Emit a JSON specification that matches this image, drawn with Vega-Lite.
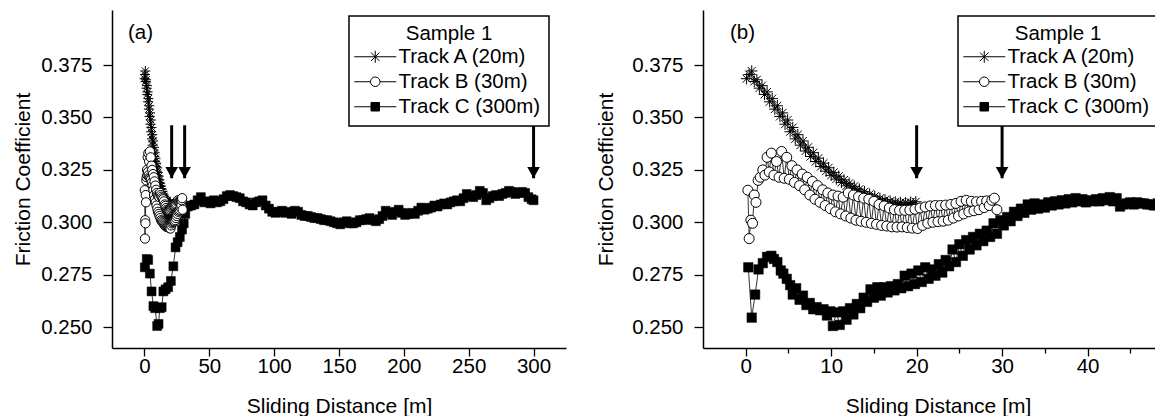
{
  "$schema": "https://vega.github.io/schema/vega-lite/v6.json",
  "background": "white",
  "padding": {"left": 12, "top": 10, "right": 0, "bottom": 0},
  "spacing": 29,
  "datasets": {
    "tracks": [{"track": "Track A (20m)"}, {"track": "Track B (30m)"}, {"track": "Track C (300m)"}],
    "ab": [
      {"t":"A","x":0.1,"y":0.3685},{"t":"A","x":0.4,"y":0.3705},{"t":"A","x":0.7,"y":0.3722},{"t":"A","x":1.0,"y":0.3672},{"t":"A","x":1.3,"y":0.3680},{"t":"A","x":1.6,"y":0.3640},{"t":"A","x":1.9,"y":0.3652},{"t":"A","x":2.2,"y":0.3610},{"t":"A","x":2.5,"y":0.3622},{"t":"A","x":2.8,"y":0.3575},{"t":"A","x":3.1,"y":0.3590},{"t":"A","x":3.4,"y":0.3540},{"t":"A","x":3.7,"y":0.3556},{"t":"A","x":4.0,"y":0.3505},{"t":"A","x":4.3,"y":0.3522},{"t":"A","x":4.6,"y":0.3468},{"t":"A","x":4.9,"y":0.3488},{"t":"A","x":5.2,"y":0.3432},{"t":"A","x":5.5,"y":0.3452},{"t":"A","x":5.8,"y":0.3398},{"t":"A","x":6.1,"y":0.3418},{"t":"A","x":6.4,"y":0.3368},{"t":"A","x":6.7,"y":0.3388},{"t":"A","x":7.0,"y":0.3340},{"t":"A","x":7.3,"y":0.3358},{"t":"A","x":7.6,"y":0.3314},{"t":"A","x":7.9,"y":0.3332},{"t":"A","x":8.2,"y":0.3290},{"t":"A","x":8.5,"y":0.3306},{"t":"A","x":8.8,"y":0.3266},{"t":"A","x":9.1,"y":0.3282},{"t":"A","x":9.4,"y":0.3244},{"t":"A","x":9.7,"y":0.3260},{"t":"A","x":10.0,"y":0.3224},{"t":"A","x":10.3,"y":0.3238},{"t":"A","x":10.6,"y":0.3206},{"t":"A","x":10.9,"y":0.3220},{"t":"A","x":11.2,"y":0.3190},{"t":"A","x":11.5,"y":0.3202},{"t":"A","x":11.8,"y":0.3174},{"t":"A","x":12.1,"y":0.3186},{"t":"A","x":12.4,"y":0.3160},{"t":"A","x":12.7,"y":0.3172},{"t":"A","x":13.0,"y":0.3146},{"t":"A","x":13.3,"y":0.3158},{"t":"A","x":13.6,"y":0.3134},{"t":"A","x":13.9,"y":0.3146},{"t":"A","x":14.2,"y":0.3122},{"t":"A","x":14.5,"y":0.3134},{"t":"A","x":14.8,"y":0.3112},{"t":"A","x":15.1,"y":0.3124},{"t":"A","x":15.4,"y":0.3104},{"t":"A","x":15.7,"y":0.3114},{"t":"A","x":16.0,"y":0.3097},{"t":"A","x":16.3,"y":0.3107},{"t":"A","x":16.6,"y":0.3092},{"t":"A","x":16.9,"y":0.3101},{"t":"A","x":17.2,"y":0.3088},{"t":"A","x":17.5,"y":0.3097},{"t":"A","x":17.8,"y":0.3085},{"t":"A","x":18.1,"y":0.3094},{"t":"A","x":18.4,"y":0.3084},{"t":"A","x":18.7,"y":0.3093},{"t":"A","x":19.0,"y":0.3085},{"t":"A","x":19.3,"y":0.3095},{"t":"A","x":19.6,"y":0.3088},{"t":"A","x":19.9,"y":0.3098},
      {"t":"B","x":0.25,"y":0.3153},{"t":"B","x":0.4,"y":0.2922},{"t":"B","x":0.6,"y":0.3010},{"t":"B","x":0.8,"y":0.2995},{"t":"B","x":1.0,"y":0.3130},{"t":"B","x":1.2,"y":0.3095},{"t":"B","x":1.45,"y":0.3200},{"t":"B","x":1.7,"y":0.3215},{"t":"B","x":2.0,"y":0.3250},{"t":"B","x":2.25,"y":0.3225},{"t":"B","x":2.5,"y":0.3310},{"t":"B","x":2.75,"y":0.3240},{"t":"B","x":3.0,"y":0.3330},{"t":"B","x":3.3,"y":0.3225},{"t":"B","x":3.6,"y":0.3290},{"t":"B","x":3.9,"y":0.3215},{"t":"B","x":4.2,"y":0.3338},{"t":"B","x":4.5,"y":0.3210},{"t":"B","x":4.8,"y":0.3310},{"t":"B","x":5.1,"y":0.3205},{"t":"B","x":5.4,"y":0.3270},{"t":"B","x":5.7,"y":0.3190},{"t":"B","x":6.0,"y":0.3250},{"t":"B","x":6.3,"y":0.3175},{"t":"B","x":6.6,"y":0.3230},{"t":"B","x":6.9,"y":0.3155},{"t":"B","x":7.2,"y":0.3215},{"t":"B","x":7.5,"y":0.3130},{"t":"B","x":7.8,"y":0.3195},{"t":"B","x":8.1,"y":0.3110},{"t":"B","x":8.4,"y":0.3175},{"t":"B","x":8.7,"y":0.3095},{"t":"B","x":9.0,"y":0.3155},{"t":"B","x":9.3,"y":0.3080},{"t":"B","x":9.6,"y":0.3140},{"t":"B","x":9.9,"y":0.3065},{"t":"B","x":10.2,"y":0.3130},{"t":"B","x":10.5,"y":0.3050},{"t":"B","x":10.8,"y":0.3125},{"t":"B","x":11.1,"y":0.3040},{"t":"B","x":11.4,"y":0.3120},{"t":"B","x":11.7,"y":0.3030},{"t":"B","x":12.0,"y":0.3140},{"t":"B","x":12.3,"y":0.3020},{"t":"B","x":12.6,"y":0.3130},{"t":"B","x":12.9,"y":0.3010},{"t":"B","x":13.2,"y":0.3122},{"t":"B","x":13.5,"y":0.3005},{"t":"B","x":13.8,"y":0.3115},{"t":"B","x":14.1,"y":0.3000},{"t":"B","x":14.4,"y":0.3110},{"t":"B","x":14.7,"y":0.2995},{"t":"B","x":15.0,"y":0.3100},{"t":"B","x":15.3,"y":0.2990},{"t":"B","x":15.6,"y":0.3085},{"t":"B","x":15.9,"y":0.2985},{"t":"B","x":16.2,"y":0.3078},{"t":"B","x":16.5,"y":0.2982},{"t":"B","x":16.8,"y":0.3068},{"t":"B","x":17.1,"y":0.2978},{"t":"B","x":17.4,"y":0.3060},{"t":"B","x":17.7,"y":0.2977},{"t":"B","x":18.0,"y":0.3057},{"t":"B","x":18.3,"y":0.2978},{"t":"B","x":18.6,"y":0.3057},{"t":"B","x":18.9,"y":0.2975},{"t":"B","x":19.2,"y":0.3058},{"t":"B","x":19.5,"y":0.2972},{"t":"B","x":19.8,"y":0.3062},{"t":"B","x":20.1,"y":0.2970},{"t":"B","x":20.4,"y":0.3068},{"t":"B","x":20.7,"y":0.2985},{"t":"B","x":21.0,"y":0.3073},{"t":"B","x":21.3,"y":0.2995},{"t":"B","x":21.6,"y":0.3078},{"t":"B","x":21.9,"y":0.3000},{"t":"B","x":22.2,"y":0.3080},{"t":"B","x":22.5,"y":0.3003},{"t":"B","x":22.8,"y":0.3080},{"t":"B","x":23.1,"y":0.3005},{"t":"B","x":23.4,"y":0.3082},{"t":"B","x":23.7,"y":0.3010},{"t":"B","x":24.0,"y":0.3085},{"t":"B","x":24.3,"y":0.3020},{"t":"B","x":24.6,"y":0.3090},{"t":"B","x":24.9,"y":0.3030},{"t":"B","x":25.2,"y":0.3100},{"t":"B","x":25.5,"y":0.3040},{"t":"B","x":25.8,"y":0.3105},{"t":"B","x":26.1,"y":0.3050},{"t":"B","x":26.4,"y":0.3100},{"t":"B","x":26.7,"y":0.3055},{"t":"B","x":27.0,"y":0.3098},{"t":"B","x":27.3,"y":0.3060},{"t":"B","x":27.6,"y":0.3100},{"t":"B","x":27.9,"y":0.3070},{"t":"B","x":28.2,"y":0.3102},{"t":"B","x":28.5,"y":0.3080},{"t":"B","x":28.8,"y":0.3105},{"t":"B","x":29.1,"y":0.3115},{"t":"B","x":29.4,"y":0.3060}
    ],
    "cR": [
      {"x":0.3,"y":0.2785},{"x":0.7,"y":0.2545},{"x":1.1,"y":0.2655},{"x":1.5,"y":0.2775},{"x":2.0,"y":0.2805},{"x":2.5,"y":0.2835},{"x":3.0,"y":0.2840},{"x":3.3,"y":0.2825},{"x":3.7,"y":0.2810},{"x":4.1,"y":0.2770},{"x":4.4,"y":0.2755},{"x":4.8,"y":0.2730},{"x":5.2,"y":0.2700},{"x":5.5,"y":0.2655},{"x":5.9,"y":0.2685},{"x":6.3,"y":0.2630},{"x":6.7,"y":0.2650},{"x":7.1,"y":0.2605},{"x":7.5,"y":0.2615},{"x":7.9,"y":0.2585},{"x":8.3,"y":0.2595},{"x":8.7,"y":0.2580},{"x":9.1,"y":0.2585},{"x":9.5,"y":0.2555},{"x":9.9,"y":0.2575},{"x":10.2,"y":0.2505},{"x":10.6,"y":0.2570},{"x":11.0,"y":0.2510},{"x":11.4,"y":0.2575},{"x":11.8,"y":0.2535},{"x":12.2,"y":0.2590},{"x":12.6,"y":0.2560},{"x":13.0,"y":0.2610},{"x":13.4,"y":0.2590},{"x":13.8,"y":0.2640},{"x":14.2,"y":0.2620},{"x":14.6,"y":0.2680},{"x":15.0,"y":0.2640},{"x":15.4,"y":0.2690},{"x":15.8,"y":0.2650},{"x":16.2,"y":0.2690},{"x":16.6,"y":0.2665},{"x":17.0,"y":0.2695},{"x":17.4,"y":0.2675},{"x":17.8,"y":0.2705},{"x":18.2,"y":0.2685},{"x":18.6,"y":0.2745},{"x":19.0,"y":0.2695},{"x":19.4,"y":0.2755},{"x":19.8,"y":0.2705},{"x":20.2,"y":0.2770},{"x":20.6,"y":0.2715},{"x":21.0,"y":0.2785},{"x":21.4,"y":0.2730},{"x":21.8,"y":0.2775},{"x":22.2,"y":0.2745},{"x":22.6,"y":0.2800},{"x":23.0,"y":0.2760},{"x":23.4,"y":0.2820},{"x":23.8,"y":0.2790},{"x":24.2,"y":0.2870},{"x":24.6,"y":0.2810},{"x":25.0,"y":0.2895},{"x":25.4,"y":0.2840},{"x":25.8,"y":0.2915},{"x":26.2,"y":0.2870},{"x":26.6,"y":0.2930},{"x":27.0,"y":0.2890},{"x":27.4,"y":0.2945},{"x":27.8,"y":0.2910},{"x":28.2,"y":0.2960},{"x":28.6,"y":0.2930},{"x":29.0,"y":0.2995},{"x":29.4,"y":0.2945},{"x":29.8,"y":0.3010},{"x":30.2,"y":0.2985},{"x":30.6,"y":0.3025},{"x":31.0,"y":0.3005},{"x":31.4,"y":0.3050},{"x":31.8,"y":0.3030},{"x":32.2,"y":0.3065},{"x":32.6,"y":0.3045},{"x":33.0,"y":0.3085},{"x":33.4,"y":0.3060},{"x":33.8,"y":0.3090},{"x":34.2,"y":0.3065},{"x":34.6,"y":0.3085},{"x":35.0,"y":0.3070},{"x":35.4,"y":0.3095},{"x":35.8,"y":0.3080},{"x":36.2,"y":0.3100},{"x":36.6,"y":0.3085},{"x":37.0,"y":0.3105},{"x":37.4,"y":0.3090},{"x":37.8,"y":0.3110},{"x":38.2,"y":0.3095},{"x":38.6,"y":0.3115},{"x":39.0,"y":0.3100},{"x":39.4,"y":0.3110},{"x":39.8,"y":0.3095},{"x":40.2,"y":0.3105},{"x":40.6,"y":0.3100},{"x":41.0,"y":0.3110},{"x":41.4,"y":0.3100},{"x":41.8,"y":0.3115},{"x":42.2,"y":0.3105},{"x":42.6,"y":0.3120},{"x":43.0,"y":0.3100},{"x":43.4,"y":0.3115},{"x":43.8,"y":0.3075},{"x":44.2,"y":0.3085},{"x":44.6,"y":0.3090},{"x":45.0,"y":0.3095},{"x":45.4,"y":0.3085},{"x":45.8,"y":0.3095},{"x":46.2,"y":0.3090},{"x":46.6,"y":0.3090},{"x":47.0,"y":0.3085},{"x":47.4,"y":0.3085},{"x":47.8,"y":0.3080},{"x":48.2,"y":0.3090},{"x":48.6,"y":0.3085},{"x":49.0,"y":0.3085},{"x":49.4,"y":0.3090}
    ],
    "cL": [
      {"x":0.3,"y":0.2785},{"x":1.8,"y":0.2825},{"x":2.9,"y":0.2820},{"x":4.2,"y":0.2755},{"x":5.5,"y":0.2670},{"x":6.9,"y":0.2600},{"x":8.2,"y":0.2590},{"x":9.8,"y":0.2505},{"x":10.9,"y":0.2515},{"x":11.9,"y":0.2590},{"x":13.3,"y":0.2595},{"x":14.6,"y":0.2670},{"x":16.3,"y":0.2680},{"x":18.3,"y":0.2690},{"x":20.4,"y":0.2720},{"x":22.3,"y":0.2790},{"x":24.0,"y":0.2880},{"x":25.6,"y":0.2905},{"x":27.3,"y":0.2930},{"x":29.0,"y":0.2965},{"x":30.3,"y":0.2995},{"x":31.5,"y":0.3040},
      {"x":33.5,"y":0.3075},{"x":36,"y":0.3080},{"x":38.5,"y":0.3085},{"x":41,"y":0.3105},{"x":43.5,"y":0.3120},{"x":46,"y":0.3095},{"x":48.5,"y":0.3100},{"x":51,"y":0.3090},{"x":53.5,"y":0.3105},{"x":56,"y":0.3095},{"x":58.5,"y":0.3100},{"x":61,"y":0.3110},{"x":63.5,"y":0.3125},{"x":66,"y":0.3130},{"x":68.5,"y":0.3125},{"x":71,"y":0.3120},{"x":73.5,"y":0.3115},{"x":76,"y":0.3100},{"x":78.5,"y":0.3095},{"x":81,"y":0.3085},{"x":83.5,"y":0.3080},{"x":86,"y":0.3095},{"x":88.5,"y":0.3100},{"x":91,"y":0.3105},{"x":93.5,"y":0.3080},{"x":96,"y":0.3065},{"x":98.5,"y":0.3050},{"x":101,"y":0.3045},{"x":103.5,"y":0.3050},{"x":106,"y":0.3055},{"x":108.5,"y":0.3045},{"x":111,"y":0.3050},{"x":113.5,"y":0.3040},{"x":116,"y":0.3055},{"x":118.5,"y":0.3050},{"x":121,"y":0.3035},{"x":123.5,"y":0.3030},{"x":126,"y":0.3030},{"x":128.5,"y":0.3025},{"x":131,"y":0.3020},{"x":133.5,"y":0.3020},{"x":136,"y":0.3015},{"x":138.5,"y":0.3010},{"x":141,"y":0.3010},{"x":143.5,"y":0.3005},{"x":146,"y":0.3000},{"x":148.5,"y":0.2995},{"x":151,"y":0.2990},{"x":153.5,"y":0.3000},{"x":156,"y":0.3005},{"x":158.5,"y":0.2995},{"x":161,"y":0.2995},{"x":163.5,"y":0.3000},{"x":166,"y":0.3010},{"x":168.5,"y":0.3010},{"x":171,"y":0.3015},{"x":173.5,"y":0.3020},{"x":176,"y":0.3010},{"x":178.5,"y":0.3005},{"x":181,"y":0.3015},{"x":183.5,"y":0.3030},{"x":186,"y":0.3055},{"x":188.5,"y":0.3045},{"x":191,"y":0.3035},{"x":193.5,"y":0.3050},{"x":196,"y":0.3060},{"x":198.5,"y":0.3045},{"x":201,"y":0.3035},{"x":203.5,"y":0.3040},{"x":206,"y":0.3045},{"x":208.5,"y":0.3040},{"x":211,"y":0.3055},{"x":213.5,"y":0.3070},{"x":216,"y":0.3060},{"x":218.5,"y":0.3065},{"x":221,"y":0.3070},{"x":223.5,"y":0.3080},{"x":226,"y":0.3075},{"x":228.5,"y":0.3085},{"x":231,"y":0.3090},{"x":233.5,"y":0.3085},{"x":236,"y":0.3095},{"x":238.5,"y":0.3100},{"x":241,"y":0.3105},{"x":243.5,"y":0.3100},{"x":246,"y":0.3115},{"x":248.5,"y":0.3135},{"x":251,"y":0.3125},{"x":253.5,"y":0.3120},{"x":256,"y":0.3130},{"x":258.5,"y":0.3150},{"x":261,"y":0.3140},{"x":263.5,"y":0.3105},{"x":266,"y":0.3115},{"x":268.5,"y":0.3125},{"x":271,"y":0.3130},{"x":273.5,"y":0.3125},{"x":276,"y":0.3135},{"x":278.5,"y":0.3140},{"x":281,"y":0.3150},{"x":283.5,"y":0.3145},{"x":286,"y":0.3135},{"x":288.5,"y":0.3140},{"x":291,"y":0.3145},{"x":293.5,"y":0.3140},{"x":296,"y":0.3120},{"x":298.5,"y":0.3110},{"x":300,"y":0.3105}
    ]
  },
  "hconcat": [
    {
      "width": 454,
      "height": 338,
      "layer": [
        {
          "data": {"name": "ab"},
          "mark": {"type": "line", "stroke": "black", "strokeWidth": 0.8},
          "encoding": {
            "x": {"field": "x", "type": "quantitative", "scale": {"domain": [-25, 325], "nice": false, "zero": false},
                  "axis": {"title": "Sliding Distance [m]", "values": [0, 25, 50, 75, 100, 125, 150, 175, 200, 225, 250, 275, 300],
                           "labelExpr": "datum.value % 50 == 0 ? datum.label : ''",
                           "tickSize": {"condition": {"test": "datum.value % 50 != 0", "value": 5}, "value": 8},
                           "labelPadding": 0, "titlePadding": 19, "labelOverlap": false, "labelFlush": false}},
            "y": {"field": "y", "type": "quantitative", "scale": {"domain": [0.24, 0.4013], "nice": false, "zero": false},
                  "axis": {"title": "Friction Coefficient", "values": [0.25, 0.2625, 0.275, 0.2875, 0.3, 0.3125, 0.325, 0.3375, 0.35, 0.3625, 0.375, 0.3875],
                           "labelExpr": "round(datum.value*1000) % 25 == 0 ? format(datum.value, '.3f') : ''",
                           "tickSize": {"condition": {"test": "round(datum.value*1000) % 25 != 0", "value": 5}, "value": 9},
                           "labelPadding": 11, "titlePadding": 7.2, "labelOverlap": false, "labelFlush": false}},
            "detail": {"field": "t"}
          }
        },
        {
          "data": {"name": "cL"},
          "mark": {"type": "line", "stroke": "black", "strokeWidth": 0.8},
          "encoding": {"x": {"field": "x", "type": "quantitative"}, "y": {"field": "y", "type": "quantitative"}}
        },
        {
          "data": {"name": "ab"},
          "transform": [{"filter": "datum.t == 'A'"}],
          "mark": {"type": "point", "shape": "M-1,0L1,0M0,-1L0,1M-0.7,-0.7L0.7,0.7M-0.7,0.7L0.7,-0.7", "size": 100, "filled": false, "stroke": "black", "strokeWidth": 1, "opacity": 1},
          "encoding": {"x": {"field": "x", "type": "quantitative"}, "y": {"field": "y", "type": "quantitative"}}
        },
        {
          "data": {"name": "cL"},
          "mark": {"type": "point", "shape": "square", "size": 80, "filled": true, "fill": "black", "stroke": "black", "strokeWidth": 0.5, "opacity": 1},
          "encoding": {"x": {"field": "x", "type": "quantitative"}, "y": {"field": "y", "type": "quantitative"}}
        },
        {
          "data": {"name": "ab"},
          "transform": [{"filter": "datum.t == 'B'"}],
          "mark": {"type": "point", "shape": "circle", "size": 85, "filled": true, "fill": "white", "stroke": "black", "strokeWidth": 1, "opacity": 1},
          "encoding": {"x": {"field": "x", "type": "quantitative"}, "y": {"field": "y", "type": "quantitative"}}
        },
        {
          "data": {"values": [{"x": 21, "top": 0.3463, "tip": 0.321}, {"x": 31, "top": 0.3463, "tip": 0.321}, {"x": 300, "top": 0.3463, "tip": 0.321}]},
          "mark": {"type": "rule", "stroke": "black", "strokeWidth": 3},
          "encoding": {"x": {"field": "x", "type": "quantitative"}, "y": {"field": "top", "type": "quantitative"}, "y2": {"field": "tip"}}
        },
        {
          "data": {"values": [{"x": 21, "tip": 0.321}, {"x": 31, "tip": 0.321}, {"x": 300, "tip": 0.321}]},
          "mark": {"type": "point", "shape": "M-1,-1.8L1,-1.8L0,0Z", "size": 159, "filled": true, "fill": "black", "strokeWidth": 0, "opacity": 1},
          "encoding": {"x": {"field": "x", "type": "quantitative"}, "y": {"field": "tip", "type": "quantitative"}}
        },
        {
          "data": {"values": [{"x": -12.7, "y": 0.3903, "label": "(a)"}]},
          "mark": {"type": "text", "align": "left", "baseline": "middle", "fontSize": 20.5, "font": "Liberation Sans", "color": "black"},
          "encoding": {"x": {"field": "x", "type": "quantitative"}, "y": {"field": "y", "type": "quantitative"}, "text": {"field": "label"}}
        },
        {
          "data": {"name": "tracks"},
          "mark": {"type": "point", "opacity": 0, "filled": true, "stroke": "black", "strokeWidth": 1},
          "encoding": {
            "shape": {"field": "track", "type": "nominal",
                      "scale": {"domain": ["Track A (20m)", "Track B (30m)", "Track C (300m)"],
                                "range": ["M-4.2,0L4.2,0M0,-1.2L0,1.2M-0.85,-0.85L0.85,0.85M-0.85,0.85L0.85,-0.85", "M-4.2,0L-0.95,0M0.95,0L4.2,0M-0.95,0A0.95,0.95,0,1,1,0.95,0A0.95,0.95,0,1,1,-0.95,0Z", "M-4.2,0L-0.85,0M0.85,0L4.2,0M-0.85,-0.85L0.85,-0.85L0.85,0.85L-0.85,0.85Z"]},
                      "legend": {"title": "Sample 1", "orient": "none", "legendX": 237, "legendY": 6,
                                 "encode": {"symbols": {"update": {"stroke": {"value": "black"}, "strokeWidth": {"value": 1}, "opacity": {"value": 1}}}}}},
            "fill": {"field": "track", "type": "nominal",
                     "scale": {"domain": ["Track A (20m)", "Track B (30m)", "Track C (300m)"], "range": ["black", "white", "black"]},
                     "legend": {"title": "Sample 1", "orient": "none", "legendX": 237, "legendY": 6,
                                "encode": {"symbols": {"update": {"stroke": {"value": "black"}, "strokeWidth": {"value": 1}, "opacity": {"value": 1}}}}}}
          }
        }
      ]
    },
    {
      "width": 470,
      "height": 338,
      "layer": [
        {
          "data": {"name": "ab"},
          "mark": {"type": "line", "stroke": "black", "strokeWidth": 0.8},
          "encoding": {
            "x": {"field": "x", "type": "quantitative", "scale": {"domain": [-5, 50], "nice": false, "zero": false},
                  "axis": {"title": "Sliding Distance [m]", "values": [0, 5, 10, 15, 20, 25, 30, 35, 40, 45, 50],
                           "labelExpr": "datum.value % 10 == 0 ? datum.label : ''",
                           "tickSize": {"condition": {"test": "datum.value % 10 != 0", "value": 5}, "value": 8},
                           "labelPadding": 0, "titlePadding": 19, "labelOverlap": false, "labelFlush": false}},
            "y": {"field": "y", "type": "quantitative", "scale": {"domain": [0.24, 0.4013], "nice": false, "zero": false},
                  "axis": {"title": "Friction Coefficient", "values": [0.25, 0.2625, 0.275, 0.2875, 0.3, 0.3125, 0.325, 0.3375, 0.35, 0.3625, 0.375, 0.3875],
                           "labelExpr": "round(datum.value*1000) % 25 == 0 ? format(datum.value, '.3f') : ''",
                           "tickSize": {"condition": {"test": "round(datum.value*1000) % 25 != 0", "value": 5}, "value": 9},
                           "labelPadding": 11, "titlePadding": 14.7, "labelOverlap": false, "labelFlush": false}},
            "detail": {"field": "t"}
          }
        },
        {
          "data": {"name": "cR"},
          "mark": {"type": "line", "stroke": "black", "strokeWidth": 0.8},
          "encoding": {"x": {"field": "x", "type": "quantitative"}, "y": {"field": "y", "type": "quantitative"}}
        },
        {
          "data": {"name": "ab"},
          "transform": [{"filter": "datum.t == 'A'"}],
          "mark": {"type": "point", "shape": "M-1,0L1,0M0,-1L0,1M-0.7,-0.7L0.7,0.7M-0.7,0.7L0.7,-0.7", "size": 130, "filled": false, "stroke": "black", "strokeWidth": 1, "opacity": 1},
          "encoding": {"x": {"field": "x", "type": "quantitative"}, "y": {"field": "y", "type": "quantitative"}}
        },
        {
          "data": {"name": "cR"},
          "mark": {"type": "point", "shape": "square", "size": 90, "filled": true, "fill": "black", "stroke": "black", "strokeWidth": 0.5, "opacity": 1},
          "encoding": {"x": {"field": "x", "type": "quantitative"}, "y": {"field": "y", "type": "quantitative"}}
        },
        {
          "data": {"name": "ab"},
          "transform": [{"filter": "datum.t == 'B'"}],
          "mark": {"type": "point", "shape": "circle", "size": 100, "filled": true, "fill": "white", "stroke": "black", "strokeWidth": 1, "opacity": 1},
          "encoding": {"x": {"field": "x", "type": "quantitative"}, "y": {"field": "y", "type": "quantitative"}}
        },
        {
          "data": {"values": [{"x": 20, "top": 0.3463, "tip": 0.321}, {"x": 30, "top": 0.3463, "tip": 0.321}]},
          "mark": {"type": "rule", "stroke": "black", "strokeWidth": 3},
          "encoding": {"x": {"field": "x", "type": "quantitative"}, "y": {"field": "top", "type": "quantitative"}, "y2": {"field": "tip"}}
        },
        {
          "data": {"values": [{"x": 20, "tip": 0.321}, {"x": 30, "tip": 0.321}]},
          "mark": {"type": "point", "shape": "M-1,-1.8L1,-1.8L0,0Z", "size": 159, "filled": true, "fill": "black", "strokeWidth": 0, "opacity": 1},
          "encoding": {"x": {"field": "x", "type": "quantitative"}, "y": {"field": "tip", "type": "quantitative"}}
        },
        {
          "data": {"values": [{"x": -1.85, "y": 0.3903, "label": "(b)"}]},
          "mark": {"type": "text", "align": "left", "baseline": "middle", "fontSize": 20.5, "font": "Liberation Sans", "color": "black"},
          "encoding": {"x": {"field": "x", "type": "quantitative"}, "y": {"field": "y", "type": "quantitative"}, "text": {"field": "label"}}
        },
        {
          "data": {"name": "tracks"},
          "mark": {"type": "point", "opacity": 0, "filled": true, "stroke": "black", "strokeWidth": 1},
          "encoding": {
            "shape": {"field": "track", "type": "nominal",
                      "scale": {"domain": ["Track A (20m)", "Track B (30m)", "Track C (300m)"],
                                "range": ["M-4.2,0L4.2,0M0,-1.2L0,1.2M-0.85,-0.85L0.85,0.85M-0.85,0.85L0.85,-0.85", "M-4.2,0L-0.95,0M0.95,0L4.2,0M-0.95,0A0.95,0.95,0,1,1,0.95,0A0.95,0.95,0,1,1,-0.95,0Z", "M-4.2,0L-0.85,0M0.85,0L4.2,0M-0.85,-0.85L0.85,-0.85L0.85,0.85L-0.85,0.85Z"]},
                      "legend": {"title": "Sample 1", "orient": "none", "legendX": 255, "legendY": 6,
                                 "encode": {"symbols": {"update": {"stroke": {"value": "black"}, "strokeWidth": {"value": 1}, "opacity": {"value": 1}}}}}},
            "fill": {"field": "track", "type": "nominal",
                     "scale": {"domain": ["Track A (20m)", "Track B (30m)", "Track C (300m)"], "range": ["black", "white", "black"]},
                     "legend": {"title": "Sample 1", "orient": "none", "legendX": 255, "legendY": 6,
                                "encode": {"symbols": {"update": {"stroke": {"value": "black"}, "strokeWidth": {"value": 1}, "opacity": {"value": 1}}}}}}
          }
        }
      ]
    }
  ],
  "resolve": {"scale": {"shape": "independent", "fill": "independent"}, "legend": {"shape": "independent", "fill": "independent"}},
  "config": {
    "view": {"stroke": null},
    "font": "Liberation Sans",
    "axis": {"labelFont": "Liberation Sans", "titleFont": "Liberation Sans", "labelFontSize": 20.5, "titleFontSize": 21, "titleFontWeight": "normal",
             "labelColor": "black", "titleColor": "black", "domainColor": "black", "tickColor": "black", "grid": false, "domainWidth": 1.5, "tickWidth": 1.3},
    "legend": {"labelFont": "Liberation Sans", "titleFont": "Liberation Sans", "labelFontSize": 20.5, "titleFontSize": 20.5, "titleFontWeight": "normal",
               "labelColor": "black", "titleColor": "black", "titleAnchor": "middle", "titleAlign": "center", "titlePadding": 2,
               "padding": 8, "rowPadding": 4, "strokeColor": "black", "strokeWidth": 1.5, "fillColor": "white", "cornerRadius": 0,
               "symbolSize": 100, "symbolOffset": 8, "labelOffset": 13, "symbolStrokeColor": "black", "symbolStrokeWidth": 1, "symbolOpacity": 1, "labelLimit": 300}
  }
}
